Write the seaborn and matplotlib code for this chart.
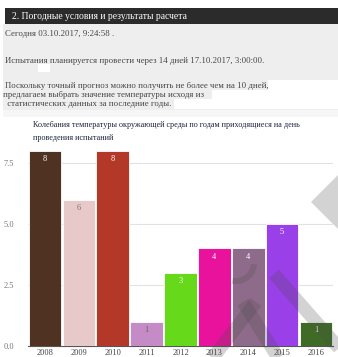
import matplotlib
matplotlib.use("Agg")
import matplotlib.pyplot as plt
import seaborn as sns
import pandas as pd
import numpy as np
from matplotlib.patches import Rectangle, Polygon
from matplotlib.lines import Line2D

years = ["2008", "2009", "2010", "2011", "2012", "2013", "2014", "2015", "2016"]
values = [8, 6, 8, 1, 3, 4, 4, 5, 1]
colors = ["#4f3221", "#e8c9ca", "#b33827", "#c48bc7", "#66d91b",
          "#e9129c", "#8f6b8b", "#9a40e8", "#3f6b26"]
label_colors = ["white", "#777777", "white", "#666666", "white",
                "white", "white", "white", "white"]
yticks = [0.0, 2.5, 5.0, 7.5]

header = "2. Погодные условия и результаты расчета"
line_today = "Сегодня 03.10.2017, 9:24:58 ."
line_test = "Испытания планируется провести через 14 дней 17.10.2017, 3:00:00."
para = ["Поскольку точный прогноз можно получить не более чем на 10 дней,",
        "предлагаем выбрать значение температуры исходя из",
        " статистических данных за последние годы."]
chart_title = ["Колебания температуры окружающей среды по годам приходящиеся на день",
               "проведения испытаний"]

sns.set_theme(style="white")
plt.rcParams["font.family"] = ["Liberation Serif", "DejaVu Serif"]

W, H = 338, 357
fig = plt.figure(figsize=(W / 100, H / 100), dpi=100)
fig.patch.set_facecolor("white")

# background page layer
bg = fig.add_axes([0, 0, 1, 1], zorder=0)
bg.set_xlim(0, W)
bg.set_ylim(H, 0)
bg.axis("off")
bg.add_patch(Rectangle((3, 24), W - 3, 93, facecolor="#eeeeee", edgecolor="none"))
bg.add_patch(Rectangle((268, 80), 70, 12, facecolor="white", edgecolor="none"))
bg.add_patch(Rectangle((212, 90), 126, 10, facecolor="white", edgecolor="none"))
bg.add_patch(Rectangle((174, 99), 164, 10, facecolor="white", edgecolor="none"))
bg.add_patch(Rectangle((38, 64), 12, 8, facecolor="white", edgecolor="none"))
bg.add_patch(Rectangle((3, 110), W - 3, 7, facecolor="#f6f6f6", edgecolor="none"))
bg.add_patch(Rectangle((5, 8), W - 5, 16, facecolor="#2b2b2b", edgecolor="none"))
bg.text(12, 16.5, header, color="white", fontsize=6.9, va="center", ha="left")
txt_col = "#444444"
bg.text(5, 34.5, line_today, color=txt_col, fontsize=6.3, va="center", ha="left")
bg.text(5, 61, line_test, color=txt_col, fontsize=6.3, va="center", ha="left")
for i, (s, y) in enumerate(zip(para, [86, 95, 103.5])):
    bg.text(5 if i != 1 else 3, y, s, color=txt_col, fontsize=6.3, va="center", ha="left")
bg.text(33, 125, chart_title[0], color="#1c2540", fontsize=5.9, va="center", ha="left")
bg.text(33, 137.5, chart_title[1], color="#1c2540", fontsize=5.9, va="center", ha="left")

# chart
ax = fig.add_axes([28 / W, 11 / H, (333 - 28) / W, (346 - 146) / H], zorder=1)
ax.patch.set_alpha(0)
df = pd.DataFrame({"year": years, "value": values})
sns.barplot(data=df, x="year", y="value", hue="year", palette=colors,
            legend=False, width=0.96, edgecolor="white", linewidth=0.6,
            saturation=1, ax=ax, zorder=3)
ax.set_ylim(0, 8.2)
ax.set_xlim(-0.5, len(years) - 0.5)
ax.set_yticks(yticks)
ax.set_yticklabels([f"{t:.1f}" for t in yticks])
ax.yaxis.grid(True, color="#e2e2e2", linewidth=0.8, zorder=0)
ax.set_axisbelow(True)
for s in ["top", "right", "left"]:
    ax.spines[s].set_visible(False)
ax.spines["bottom"].set_color("#555555")
ax.spines["bottom"].set_linewidth(0.8)
ax.tick_params(axis="y", labelsize=6, colors="#777777", length=0, pad=10)
ax.tick_params(axis="x", labelsize=6, colors="#444444", length=0, pad=2)
ax.set_xlabel("")
ax.set_ylabel("")
for i, (v, c) in enumerate(zip(values, label_colors)):
    ax.text(i, v - 0.17, str(v), ha="center", va="top", fontsize=6, color=c, zorder=5)

# watermark overlay (decorative, page pixel coordinates)
ov = fig.add_axes([0, 0, 1, 1], zorder=5)
ov.set_xlim(0, W)
ov.set_ylim(H, 0)
ov.axis("off")
wm = "#4a4a4a"
wa = 0.24
ov.add_patch(Polygon([(311, 202), (338, 175), (338, 229)], closed=True,
                     facecolor=wm, edgecolor="none", alpha=wa))
for xs, ys in [([208, 256], [364, 302]), ([243, 282], [302, 364]),
               ([274, 346], [274, 356])]:
    ov.add_line(Line2D(xs, ys, color=wm, linewidth=9.5, alpha=wa,
                       solid_capstyle="butt"))
th = np.radians(np.linspace(4, 102, 30))
ov.add_line(Line2D(236 + 18 * np.cos(th), 263 + 18 * np.sin(th), color=wm,
                   linewidth=4.5, alpha=wa, solid_capstyle="butt"))

fig.savefig("out.png", dpi=100)
